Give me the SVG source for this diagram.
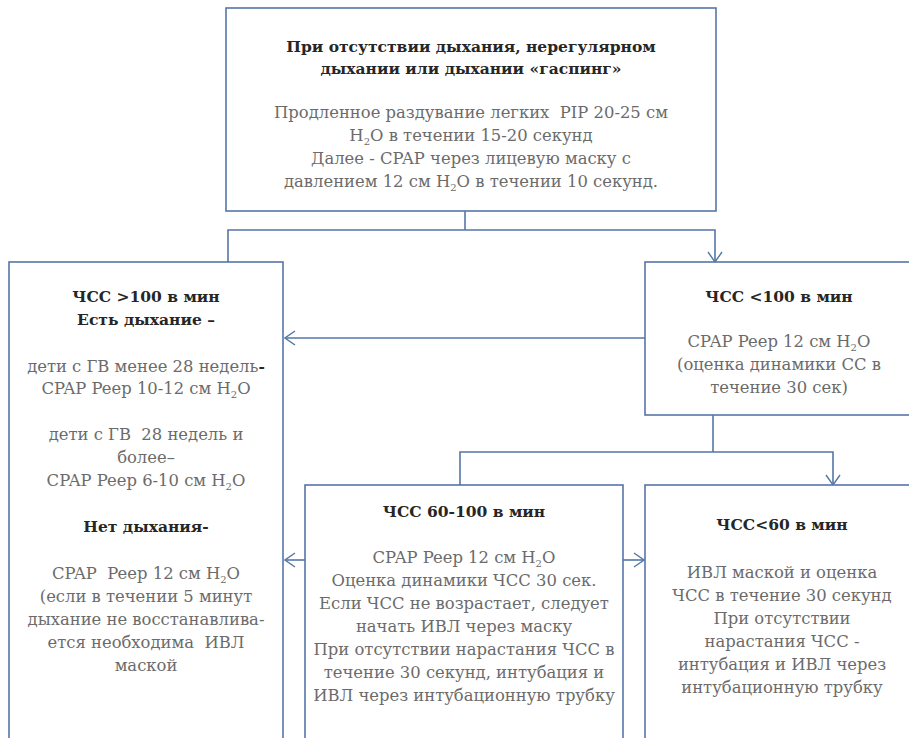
<svg xmlns="http://www.w3.org/2000/svg" width="909" height="738" viewBox="0 0 909 738">
<style>
.box{fill:#fff;stroke:#5576a8;stroke-width:1.6}
.ln{fill:none;stroke:#5576a8;stroke-width:1.6}
text{font-family:"DejaVu Serif","Liberation Serif",serif;font-size:16.4px;text-anchor:middle}
.b{font-weight:bold;fill:#262626;font-size:15.5px}
.r{fill:#6b6b6b}
.s{font-size:10px}
</style>
<defs>
<marker id="ah" viewBox="0 0 12 16" refX="11" refY="8" markerWidth="12" markerHeight="16" markerUnits="userSpaceOnUse" orient="auto">
<polyline points="1,1 11,8 1,15" fill="none" stroke="#5576a8" stroke-width="1.4"/>
</marker>
</defs>
<rect width="909" height="738" fill="#fff"/>
<g id="connectors">
<polyline class="ln" points="465,211 465,230"/>
<polyline class="ln" points="228,262 228,230 715,230 715,262" marker-start="url(#ah)" marker-end="url(#ah)"/>
<polyline class="ln" points="645,338 285,338" marker-end="url(#ah)"/>
<polyline class="ln" points="713,415 713,452"/>
<polyline class="ln" points="460,485 460,452 833,452 833,485" marker-start="url(#ah)" marker-end="url(#ah)"/>
<polyline class="ln" points="305,560 285,560" marker-end="url(#ah)"/>
<polyline class="ln" points="623,560 644,560" marker-end="url(#ah)"/>
</g>
<g id="n-top">
<rect class="box" x="226" y="8" width="490" height="203"/>
<text class="b" x="471" y="52">При отсутствии дыхания, нерегулярном</text>
<text class="b" x="471" y="74">дыхании или дыхании «гаспинг»</text>
<text class="r" x="471" y="118">Продленное раздувание легких&#160; PIP 20-25 см</text>
<text class="r" x="471" y="141">H<tspan class="s" dy="4">2</tspan><tspan dy="-4">O в течении 15-20 секунд</tspan></text>
<text class="r" x="471" y="164">Далее - CPAP через лицевую маску с</text>
<text class="r" x="471" y="187">давлением 12 см H<tspan class="s" dy="4">2</tspan><tspan dy="-4">O в течении 10 секунд.</tspan></text>
</g>
<g id="n-left">
<rect class="box" x="9" y="262" width="274" height="490"/>
<text class="b" x="146" y="302">ЧСС &gt;100 в мин</text>
<text class="b" x="146" y="325">Есть дыхание –</text>
<text class="r" x="146" y="372">дети с ГВ менее 28 недель<tspan class="b">-</tspan></text>
<text class="r" x="146" y="394">CPAP Peep 10-12 см H<tspan class="s" dy="4">2</tspan><tspan dy="-4">O</tspan></text>
<text class="r" x="146" y="440">дети с ГВ&#160; 28 недель и</text>
<text class="r" x="146" y="463">более–</text>
<text class="r" x="146" y="486">CPAP Peep 6-10 см H<tspan class="s" dy="4">2</tspan><tspan dy="-4">O</tspan></text>
<text class="b" x="146" y="532">Нет дыхания-</text>
<text class="r" x="146" y="579">CPAP&#160; Peep 12 см H<tspan class="s" dy="4">2</tspan><tspan dy="-4">O</tspan></text>
<text class="r" x="146" y="602">(если в течении 5 минут</text>
<text class="r" x="146" y="625">дыхание не восстанавлива-</text>
<text class="r" x="146" y="648">ется необходима&#160; ИВЛ</text>
<text class="r" x="146" y="671">маской</text>
</g>
<g id="n-right">
<rect class="box" x="645" y="262" width="275" height="153"/>
<text class="b" x="779" y="302">ЧСС &lt;100 в мин</text>
<text class="r" x="779" y="347">CPAP Peep 12 см H<tspan class="s" dy="4">2</tspan><tspan dy="-4">O</tspan></text>
<text class="r" x="779" y="370">(оценка динамики СС в</text>
<text class="r" x="779" y="393">течение 30 сек)</text>
</g>
<g id="n-mid">
<rect class="box" x="305" y="485" width="318" height="270"/>
<text class="b" x="464" y="517">ЧСС 60-100 в мин</text>
<text class="r" x="464" y="563">CPAP Peep 12 см H<tspan class="s" dy="4">2</tspan><tspan dy="-4">O</tspan></text>
<text class="r" x="464" y="586">Оценка динамики ЧСС 30 сек.</text>
<text class="r" x="464" y="609">Если ЧСС не возрастает, следует</text>
<text class="r" x="464" y="632">начать ИВЛ через маску</text>
<text class="r" x="464" y="655">При отсутствии нарастания ЧСС в</text>
<text class="r" x="464" y="678">течение 30 секунд, интубация и</text>
<text class="r" x="464" y="701">ИВЛ через интубационную трубку</text>
</g>
<g id="n-right2">
<rect class="box" x="645" y="485" width="275" height="270"/>
<text class="b" x="782" y="530">ЧСС&lt;60 в мин</text>
<text class="r" x="782" y="578">ИВЛ маской и оценка</text>
<text class="r" x="782" y="601">ЧСС в течение 30 секунд</text>
<text class="r" x="782" y="624">При отсутствии</text>
<text class="r" x="782" y="647">нарастания ЧСС -</text>
<text class="r" x="782" y="670">интубация и ИВЛ через</text>
<text class="r" x="782" y="693">интубационную трубку</text>
</g>
</svg>
